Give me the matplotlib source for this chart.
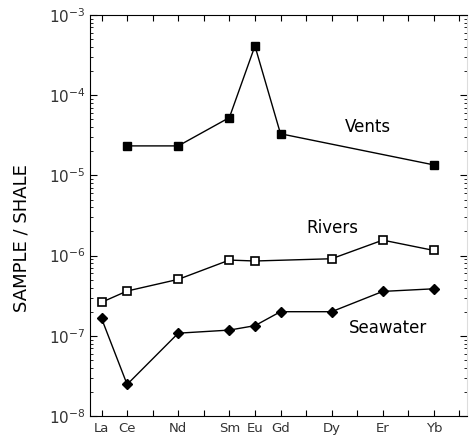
import matplotlib
matplotlib.use("Agg")
import matplotlib.pyplot as plt
import numpy as np

elements = ['La', 'Ce', 'Pr', 'Nd', 'Pm', 'Sm', 'Eu', 'Gd', 'Tb', 'Dy', 'Ho', 'Er', 'Tm', 'Yb', 'Lu']
shown = ['La', 'Ce', 'Nd', 'Sm', 'Eu', 'Gd', 'Dy', 'Er', 'Yb']

vents_el = ['Ce', 'Nd', 'Sm', 'Eu', 'Gd', 'Yb']
vents = [2.33e-5, 2.33e-5, 5.25e-5, 4.1e-4, 3.3e-5, 1.35e-5]

rivers_el = ['La', 'Ce', 'Nd', 'Sm', 'Eu', 'Dy', 'Er', 'Yb']
rivers = [2.62e-7, 3.62e-7, 5.06e-7, 8.8e-7, 8.57e-7, 9.14e-7, 1.56e-6, 1.16e-6]

sea_el = ['La', 'Ce', 'Nd', 'Sm', 'Eu', 'Gd', 'Dy', 'Er', 'Yb']
seawater = [1.65e-7, 2.48e-8, 1.08e-7, 1.18e-7, 1.34e-7, 2.0e-7, 2.0e-7, 3.58e-7, 3.86e-7]

pos = {e: i for i, e in enumerate(elements)}

W, H = 469, 438
fig = plt.figure(figsize=(W / 100, H / 100), dpi=100)
ax = fig.add_axes([0.192, 0.050, 0.804, 0.916])

ax.plot([pos[e] for e in vents_el], vents, '-s', color='k', lw=1,
        ms=6, mfc='k', mec='k')
ax.plot([pos[e] for e in rivers_el], rivers, '-s', color='k', lw=1,
        ms=6, mfc='white', mec='k', mew=1.2)
ax.plot([pos[e] for e in sea_el], seawater, '-D', color='k', lw=1,
        ms=5, mfc='k', mec='k')

ax.set_yscale('log')
ax.set_ylim(1e-8, 1e-3)
ax.set_xlim(-0.45, 14.3)

ax.set_xticks(range(len(elements)))
ax.set_xticklabels([e if e in shown else '' for e in elements], fontsize=9.5, color='#333333')
ax.set_yticks([1e-8, 1e-7, 1e-6, 1e-5, 1e-4, 1e-3])
ax.set_yticklabels([r'$10^{-8}$', r'$10^{-7}$', r'$10^{-6}$', r'$10^{-5}$',
                    r'$10^{-4}$', r'$10^{-3}$'], fontsize=11, color='#333333')
ax.tick_params(axis='both', which='both', direction='in', top=True, right=True)
ax.tick_params(axis='x', length=4, pad=4)
ax.tick_params(axis='y', which='major', length=5)
ax.tick_params(axis='y', which='minor', length=2.5)
ax.spines['right'].set_color('#dddddd')

# label positions in pixels from the top-left corner
ax.text(368 / W, 1 - 127 / H, 'Vents', transform=fig.transFigure, fontsize=12, ha='center', va='center')
ax.text(332 / W, 1 - 228 / H, 'Rivers', transform=fig.transFigure, fontsize=12, ha='center', va='center')
ax.text(388 / W, 1 - 328 / H, 'Seawater', transform=fig.transFigure, fontsize=12, ha='center', va='center')

fig.text(22 / W, 1 - 238 / H, 'SAMPLE / SHALE', rotation=90, fontsize=13,
         ha='center', va='center')

fig.savefig('out.png', dpi=100)
